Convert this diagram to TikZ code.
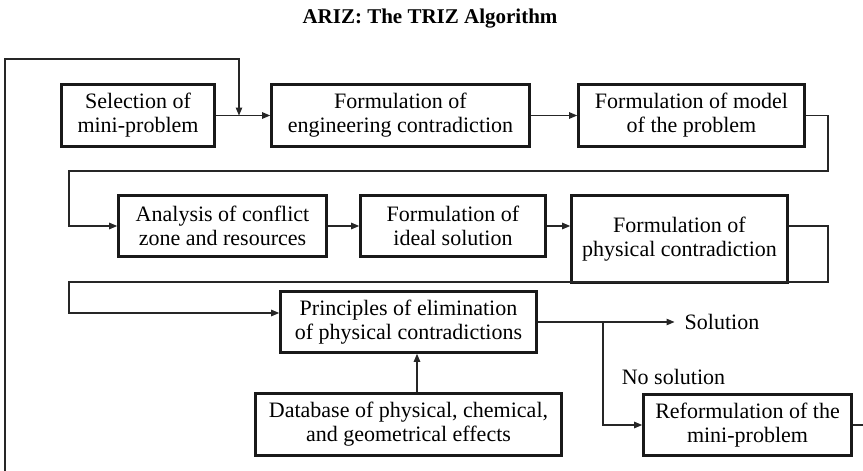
\documentclass[tikz,border=0pt]{standalone}
\usepackage{fontspec}
\setmainfont{Liberation Serif}
\usetikzlibrary{arrows.meta}
\begin{document}
\begin{tikzpicture}[x=1pt,y=-1pt,
  stepbox/.style={draw=black!90, line width=2.6pt, align=center, inner sep=0pt,
    font=\fontsize{22}{24}\selectfont},
  link/.style={line width=1.1pt, draw=black!85},
  arr/.style={link, -{Triangle[length=8pt,width=6.5pt]}},
  lbl/.style={font=\fontsize{22}{24}\selectfont, inner sep=0pt}]
\useasboundingbox (0,0) rectangle (863,471);

% title
\node[font=\bfseries\fontsize{21}{24}\selectfont] (title) at (430,19) {ARIZ: The TRIZ Algorithm};

% first row
\node[stepbox, minimum width=153, minimum height=62] (sel) at (138,115.5) {Selection of\\mini-problem};
\node[stepbox, minimum width=258, minimum height=62] (eng) at (400.5,115.5) {Formulation of\\engineering contradiction};
\node[stepbox, minimum width=226, minimum height=62] (model) at (691.5,115.5) {Formulation of model\\of the problem};

% second row
\node[stepbox, minimum width=208, minimum height=61] (conf) at (222.5,226) {Analysis of conflict\\zone and resources};
\node[stepbox, minimum width=185, minimum height=61] (ideal) at (453,226) {Formulation of\\ideal solution};
\node[stepbox, minimum width=216, minimum height=87] (phys) at (679.5,239) {Formulation of\\physical contradiction};

% third row
\node[stepbox, minimum width=256, minimum height=61] (princ) at (408.5,322) {Principles of elimination\\of physical contradictions};
\node[lbl] (sol) at (722,322) {Solution};
\node[lbl] (nosol) at (673.5,377) {No solution};

% bottom row
\node[stepbox, minimum width=306, minimum height=62] (dbase) at (408.5,424.5) {Database of physical, chemical,\\and geometrical effects};
\node[stepbox, minimum width=208, minimum height=61] (reform) at (747.5,425) {Reformulation of the\\mini-problem};

% routing points
\coordinate (loopbot) at (5,471);
\coordinate (looptop) at (5,59);
\coordinate (loopin) at (239,59);
\coordinate (join) at (239,115.5);
\coordinate (r1) at (828,171);
\coordinate (l1) at (69,171);
\coordinate (r2) at (828,282);
\coordinate (l2) at (69,282);
\coordinate (l3) at (69,313);
\coordinate (split) at (603,322);
\coordinate (exit) at (863,425);

% connectors
\draw[link] (sel.east) -- (join);
\draw[arr] (join) -- (eng.west);
\draw[arr] (loopbot) -- (looptop) -- (loopin) -- (join);
\draw[arr] (eng.east) -- (model.west);
\draw[arr] (model.east) -| (r1) -- (l1) |- (conf.west);
\draw[arr] (conf.east) -- (ideal.east -| ideal.west);
\draw[arr] (ideal.east) -- (ideal.east -| phys.west);
\draw[arr] (phys.east |- ideal.east) -| (r2) -- (l2) -- (l3) -- (l3 -| princ.west);
\draw[arr, shorten >=10pt] (princ.east) -- (sol.west);
\draw[arr] (split) |- (reform.west);
\draw[link] (reform.east) -- (exit);
\draw[arr] ([xshift=8.5pt]dbase.north) -- ([xshift=8.5pt]princ.south);
\end{tikzpicture}
\end{document}
